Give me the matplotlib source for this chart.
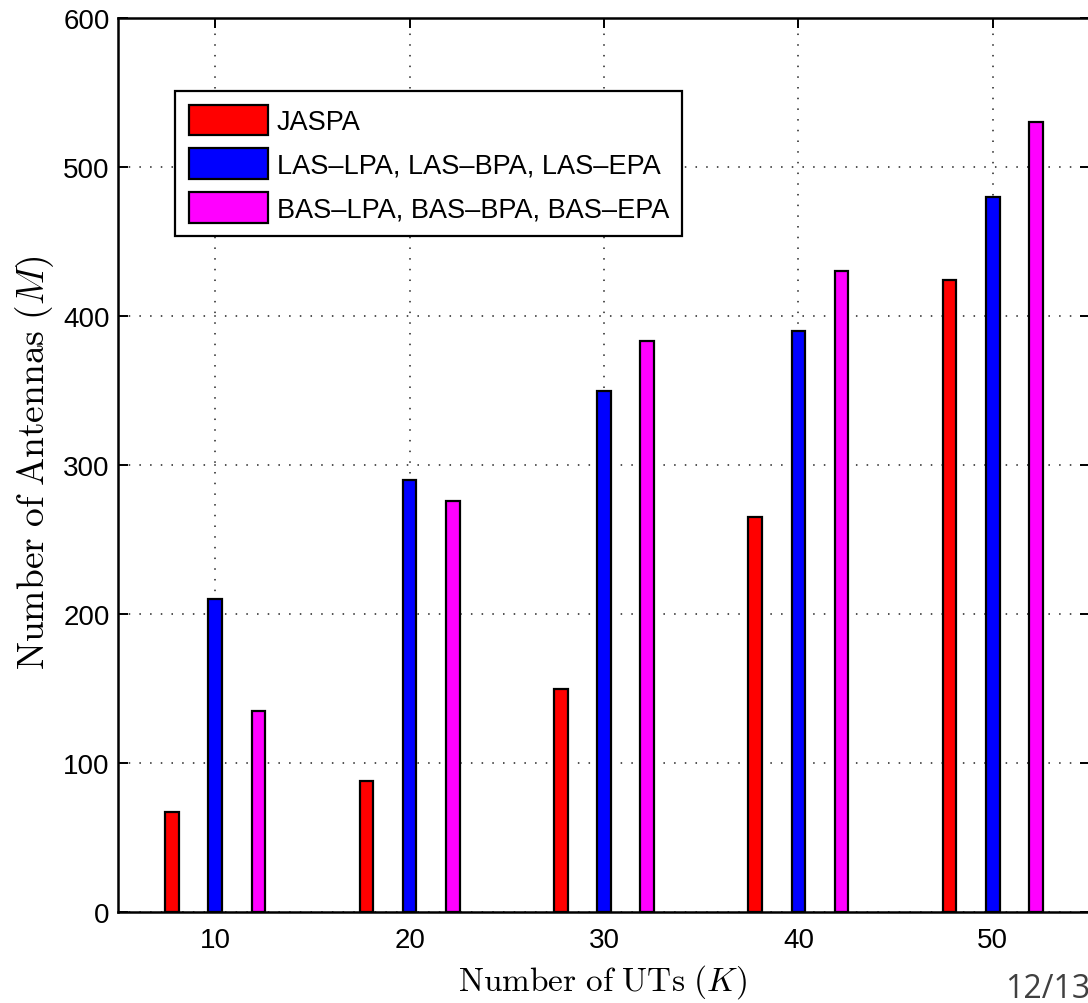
import numpy as np
import matplotlib
matplotlib.use('Agg')
import matplotlib.pyplot as plt

# Data
num_uts = [10, 20, 30, 40, 50]
jaspa = [67, 88, 150, 265, 424]
las = [210, 290, 350, 390, 480]
bas = [135, 276, 383, 430, 530]
series_labels = ['JASPA', 'LAS\u2013LPA, LAS\u2013BPA, LAS\u2013EPA', 'BAS\u2013LPA, BAS\u2013BPA, BAS\u2013EPA']
series_colors = ['#ff0000', '#0000ff', '#ff00ff']
y_ticks = [0, 100, 200, 300, 400, 500, 600]

plt.rcParams['font.family'] = ['Liberation Sans', 'DejaVu Sans']
plt.rcParams['mathtext.fontset'] = 'cm'

W, H = 1088, 1004
fig = plt.figure(figsize=(W / 100, H / 100), dpi=100)
# axes box in pixels: left 118, right 1090, top 19, bottom 913
ax = fig.add_axes([118 / W, (H - 913) / H, (1090 - 118) / W, (913 - 19) / H])

x = np.array(num_uts, dtype=float)
offset = 2.22
width = 0.7
for i, (vals, col, lab) in enumerate(zip([jaspa, las, bas], series_colors, series_labels)):
    ax.bar(x + (i - 1) * offset, vals, width=width, color=col, edgecolor='black',
           linewidth=1.6, label=lab, zorder=3)

ax.set_xlim(5, 55)
ax.set_ylim(0, 600)
ax.set_xticks(num_uts)
ax.set_yticks(y_ticks)
ax.set_axisbelow(True)
ax.grid(True, color='#222222', linestyle=(0, (1, 6)), linewidth=1.1)

for s in ax.spines.values():
    s.set_linewidth(1.8)
ax.tick_params(direction='in', length=7, width=1.4, labelsize=20,
               top=True, right=True)
ax.tick_params(axis='x', pad=11)
ax.tick_params(axis='y', pad=6)

ax.set_xlabel(r'$\mathrm{Number\ of\ UTs}\ (K)$', fontsize=24)
ax.set_ylabel(r'$\mathrm{Number\ of\ Antennas}\ (M)$', fontsize=27)
ax.xaxis.set_label_coords((602 - 118) / 972, -(963 - 913) / 894)
ax.yaxis.set_label_coords(-(118 - 56) / 972, (913 - 463) / 894)

leg = ax.legend(loc='upper left', bbox_to_anchor=((175 - 118) / 972, (913 - 92) / 894),
                borderaxespad=0, fontsize=19.5, fancybox=False, framealpha=1,
                edgecolor='black', handlelength=2.95, handleheight=1.35,
                handletextpad=0.3, labelspacing=0.5, borderpad=0.5)
leg.get_frame().set_linewidth(1.6)

fig.text(1005 / W, (H - 998) / H, '12/13', fontsize=23, color='#404040',
         family=['Open Sans', 'DejaVu Sans'], ha='left', va='baseline')

fig.savefig('out.png', dpi=100)
